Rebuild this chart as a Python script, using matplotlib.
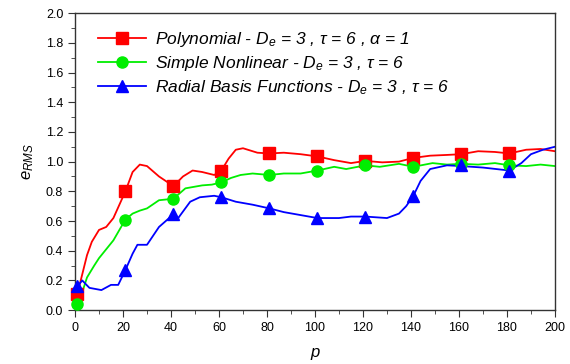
import numpy as np
import matplotlib
matplotlib.use("Agg")
import matplotlib.pyplot as plt
from matplotlib.ticker import MultipleLocator

plt.rcParams['font.family'] = ['Liberation Sans', 'DejaVu Sans']
plt.rcParams['mathtext.fontset'] = 'custom'
plt.rcParams['mathtext.rm'] = 'Liberation Sans'
plt.rcParams['mathtext.it'] = 'Liberation Sans:italic'

# --- data ---
# marker positions (every 20 samples)
p_mark = [1, 21, 41, 61, 81, 101, 121, 141, 161, 181]
poly_mark = [0.11, 0.80, 0.835, 0.94, 1.055, 1.035, 1.005, 1.025, 1.05, 1.055]
nonlin_mark = [0.04, 0.61, 0.75, 0.86, 0.91, 0.94, 0.975, 0.965, 0.985, 0.975]
rbf_mark = [0.16, 0.27, 0.645, 0.76, 0.685, 0.62, 0.63, 0.77, 0.975, 0.94]

# smooth curves (read densely)
p_poly = [1, 3, 5, 7, 10, 13, 16, 21, 24, 27, 30, 35, 41, 45, 49, 53, 58, 61, 64, 67,
          70, 76, 81, 87, 94, 101, 108, 115, 121, 128, 135, 141, 148, 155, 161, 168,
          175, 181, 188, 194, 200]
poly_line = [0.11, 0.24, 0.37, 0.46, 0.54, 0.56, 0.62, 0.80, 0.93, 0.98, 0.97, 0.90,
             0.835, 0.90, 0.94, 0.93, 0.91, 0.94, 1.02, 1.08, 1.09, 1.06, 1.055, 1.06,
             1.05, 1.035, 1.01, 0.99, 1.005, 0.995, 1.00, 1.025, 1.04, 1.045, 1.05,
             1.07, 1.065, 1.055, 1.08, 1.085, 1.07]

p_nonlin = [1, 3, 5, 8, 10, 13, 16, 21, 24, 27, 30, 35, 41, 46, 53, 57, 61, 65, 69, 74,
            81, 87, 94, 101, 108, 113, 121, 127, 135, 141, 149, 155, 161, 168, 175, 181,
            188, 194, 200]
nonlin_line = [0.04, 0.12, 0.22, 0.30, 0.35, 0.41, 0.47, 0.61, 0.65, 0.67, 0.685, 0.74,
               0.75, 0.82, 0.84, 0.845, 0.86, 0.89, 0.91, 0.92, 0.91, 0.92, 0.92, 0.94,
               0.965, 0.95, 0.975, 0.965, 0.985, 0.965, 0.99, 0.98, 0.985, 0.98, 0.99,
               0.975, 0.97, 0.98, 0.97]

p_rbf = [1, 3, 6, 11, 15, 18, 21, 24, 26, 30, 35, 41, 43, 48, 52, 58, 61, 67, 74, 81,
         87, 94, 101, 110, 115, 121, 130, 135, 138, 141, 144, 148, 155, 161, 170, 181,
         186, 190, 195, 200]
rbf_line = [0.16, 0.20, 0.15, 0.135, 0.17, 0.17, 0.27, 0.38, 0.44, 0.44, 0.56, 0.645,
            0.62, 0.73, 0.76, 0.77, 0.76, 0.73, 0.71, 0.685, 0.66, 0.64, 0.62, 0.62,
            0.63, 0.63, 0.62, 0.65, 0.70, 0.77, 0.87, 0.95, 0.975, 0.97, 0.96, 0.94,
            0.99, 1.05, 1.08, 1.10]

labels = [r'Polynomial - D$_e$ = 3 , $\tau$ = 6 , $\alpha$ = 1',
          r'Simple Nonlinear - D$_e$ = 3 , $\tau$ = 6',
          r'Radial Basis Functions - D$_e$ = 3 , $\tau$ = 6']

fig = plt.figure(figsize=(5.7, 3.64), dpi=100)
ax = fig.add_axes([0.1316, 0.148, 0.842, 0.816])

series = [
    (p_poly, poly_line, poly_mark, '#ff0000', 's', labels[0]),
    (p_nonlin, nonlin_line, nonlin_mark, '#00ee00', 'o', labels[1]),
    (p_rbf, rbf_line, rbf_mark, '#0000ff', '^', labels[2]),
]
handles = []
for p_l, v_l, v_m, col, mk, lab in series:
    ax.plot(p_l, v_l, color=col, lw=1.3, zorder=2, clip_on=False)
    ax.plot(p_mark, v_m, ls='none', marker=mk, color=col, ms=8, zorder=3, clip_on=False)
    h, = ax.plot([], [], color=col, lw=1.3, marker=mk, ms=8, label=lab)
    handles.append(h)

ax.set_xlim(0, 200)
ax.set_ylim(0, 2.0)
ax.xaxis.set_major_locator(MultipleLocator(20))
ax.xaxis.set_minor_locator(MultipleLocator(10))
ax.yaxis.set_major_locator(MultipleLocator(0.2))
ax.yaxis.set_minor_locator(MultipleLocator(0.1))
ax.yaxis.set_major_formatter(plt.FormatStrFormatter('%.1f'))
ax.tick_params(which='major', direction='out', length=5, labelsize=9, color='#333333')
ax.tick_params(which='minor', direction='out', length=3, color='#333333')
for s in ax.spines.values():
    s.set_color('#333333')
    s.set_linewidth(1.0)

ax.set_xlabel('p', style='italic', fontsize=12, labelpad=8)
ax.set_ylabel(r'$e_{RMS}$', fontsize=12, labelpad=7)

ax.legend(handles=handles, loc='upper left', frameon=False,
          prop={'style': 'italic', 'size': 12.5}, handlelength=2.8,
          bbox_to_anchor=(0.015, 0.997), labelspacing=0.3, handletextpad=0.5)

fig.savefig('out.png', dpi=100)
